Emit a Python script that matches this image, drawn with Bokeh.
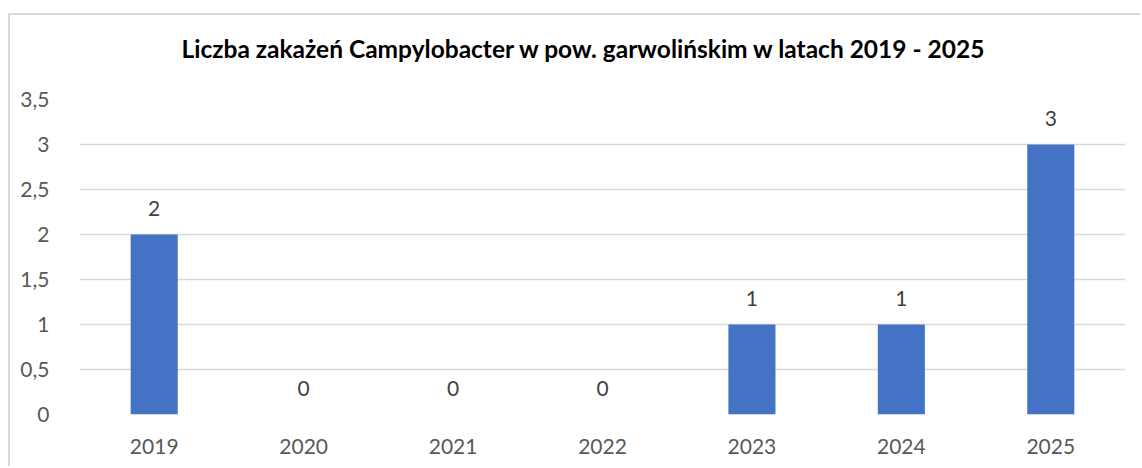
from bokeh.plotting import figure
from bokeh.models import ColumnDataSource, FixedTicker, Title
from bokeh.core.properties import value
from bokeh.embed import file_html
from bokeh.resources import INLINE

years = ["2019", "2020", "2021", "2022", "2023", "2024", "2025"]
counts = [2, 0, 0, 0, 1, 1, 3]
y_ticks = [0, 0.5, 1, 1.5, 2, 2.5, 3, 3.5]
y_tick_labels = ["0", "0,5", "1", "1,5", "2", "2,5", "3", "3,5"]
title_text = "Liczba zakażeń Campylobacter w pow. garwolińskim w latach 2019 - 2025"

FONT = "Lato"

src = ColumnDataSource(dict(x=years, top=counts, lab=[str(c) for c in counts]))

p = figure(x_range=years, y_range=(0, 3.5), width=1132, height=453,
           output_backend="svg", toolbar_location=None,
           min_border_left=69, min_border_right=17, min_border_top=84, min_border_bottom=54)
p.styles = {"margin-left": "8px", "margin-top": "13px",
            "border-top": "2px solid #d9d9d9", "border-left": "2px solid #d9d9d9"}
p.outline_line_color = None
p.background_fill_color = "white"
p.border_fill_color = "white"
p.title.text = ""
p.title.standoff = 0

# spacer between the frame and the title (closest to the frame)
p.add_layout(Title(text=" ", text_font_size="2px", standoff=33), "above")
# the chart title (further out)
p.add_layout(Title(text=title_text, align="left", offset=102, standoff=0,
                   text_font=FONT, text_font_style="bold", text_font_size="24.5px",
                   text_color="#000000"), "above")

p.vbar(x="x", top="top", width=0.315, source=src, color="#4472C4", line_color=None)
p.text(x="x", y="top", text="lab", source=src, text_align="center", text_baseline="middle",
       y_offset=-26, text_font=value(FONT), text_font_size="21px", text_color="#404040")

p.yaxis.ticker = FixedTicker(ticks=y_ticks)
p.yaxis.major_label_overrides = {t: l for t, l in zip(y_ticks, y_tick_labels)}
for ax in (p.xaxis, p.yaxis):
    ax.axis_line_color = None
    ax.major_tick_line_color = None
    ax.minor_tick_line_color = None
    ax.major_label_text_font = FONT
    ax.major_label_text_font_size = "21px"
    ax.major_label_text_color = "#595959"
p.yaxis.major_label_standoff = 24
p.xaxis.major_label_standoff = 18

p.xgrid.grid_line_color = None
p.ygrid.grid_line_color = "#d9d9d9"
p.ygrid.grid_line_width = 1.5

open("out.html", "w").write(file_html(p, INLINE))
